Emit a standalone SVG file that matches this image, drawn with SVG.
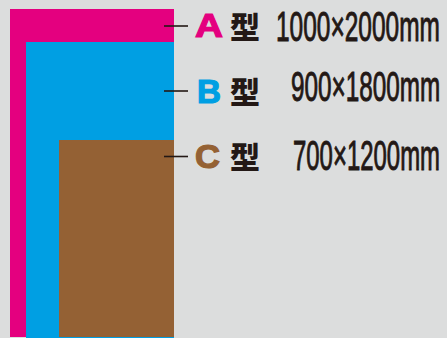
<svg xmlns="http://www.w3.org/2000/svg" width="447" height="338" viewBox="0 0 447 338">
<style>
.lbl{font-family:"Liberation Sans",Arial,sans-serif;font-weight:bold;font-size:33px;stroke-width:1.2}
.kata{font-family:"Noto Sans CJK JP","Noto Sans CJK SC",sans-serif;font-weight:900;font-size:30px;fill:#231815}
.dim{font-family:"Liberation Sans",Arial,sans-serif;font-size:42px;fill:#231815;stroke:#231815;stroke-width:1}
.tick{stroke:#231815;stroke-width:1.6}
</style>
<rect width="447" height="338" fill="#dcdddd"/>
<g id="rectA"><rect x="10" y="9" width="164" height="328" fill="#e4007f"/></g>
<g id="rectB"><rect x="26" y="42" width="148" height="296" fill="#009fe3"/></g>
<g id="rectC"><rect x="59" y="140" width="115" height="197" fill="#946134"/></g>
<g id="connectors">
<line class="tick" x1="164" y1="26" x2="188" y2="26"/>
<line class="tick" x1="164" y1="91" x2="188" y2="91"/>
<line class="tick" x1="164" y1="156.5" x2="188" y2="156.5"/>
</g>
<g id="labelA">
<text class="lbl" x="195" y="36.5" fill="#e4007f" stroke="#e4007f" textLength="28" lengthAdjust="spacingAndGlyphs">A</text>
<text class="kata" x="230" y="38">型</text>
<text class="dim" transform="translate(276,40.5) scale(0.583,1)">1000×2000mm</text>
</g>
<g id="labelB">
<text class="lbl" x="197" y="103" fill="#009fe3" stroke="#009fe3" textLength="24" lengthAdjust="spacingAndGlyphs">B</text>
<text class="kata" x="230" y="103">型</text>
<text class="dim" transform="translate(291,101) scale(0.578,1)">900×1800mm</text>
</g>
<g id="labelC">
<text class="lbl" x="195" y="168" fill="#946134" stroke="#946134" textLength="25" lengthAdjust="spacingAndGlyphs">C</text>
<text class="kata" x="230" y="168">型</text>
<text class="dim" transform="translate(293,169.5) scale(0.570,1)">700×1200mm</text>
</g>
</svg>
